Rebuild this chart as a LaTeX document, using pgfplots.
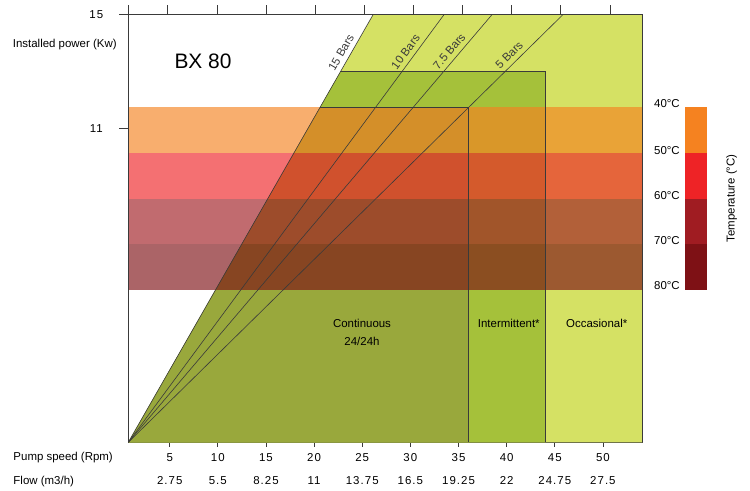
\documentclass[border=0pt]{standalone}
\usepackage{fontspec}
\setmainfont{Liberation Sans}
\newfontfamily\numfont[LetterSpace=9]{Liberation Sans}
\usepackage{pgfplots}
\pgfplotsset{compat=1.18}
\definecolor{lgreen}{HTML}{D5E164}
\definecolor{mgreen}{HTML}{A5C13A}
\definecolor{ogreen}{HTML}{99A83C}
\definecolor{t40}{HTML}{F58220}
\definecolor{t50}{HTML}{EE2326}
\definecolor{t60}{HTML}{A01C22}
\definecolor{t70}{HTML}{7E1115}
\definecolor{linec}{HTML}{3A3A3A}
\newcommand{\fs}{\fontsize{11.5}{13.8}\selectfont}
\newcommand{\fn}{\numfont\fontsize{11.5}{13.8}\selectfont}
\begin{document}
\begin{tikzpicture}
\useasboundingbox (-128.3bp,-48.7bp) rectangle (621.7bp,442.3bp);
\begin{axis}[
  at={(0,0)}, anchor=south west,
  scale only axis, width=514bp, height=428bp,
  xmin=0.7, xmax=54.09, ymin=0, ymax=15,
  clip=false,
  axis line style={linec, line width=0.8bp},
  xtick={5,10,...,50}, ytick=\empty,
  xtick pos=bottom,
  tick align=outside,
  major tick length=4.5bp,
  tick style={linec, line width=0.8bp},
  tick label style={font=\fn},
  /pgf/number format/assume math mode=true,
  xticklabel style={anchor=base, yshift=-14.7bp},
]
% operating zones
\addplot[fill=lgreen, draw=none] coordinates {(0.7,0) (26.15,15) (54.09,15) (54.09,0)} -- cycle;
\addplot[fill=mgreen, draw=none] coordinates {(0.7,0) (22.75,13) (44,13) (44,0)} -- cycle;
\addplot[fill=ogreen, draw=none] coordinates {(0.7,0) (20.61,11.74) (36.06,11.74) (36.06,0)} -- cycle;
% temperature bands
\addplot[fill=t40, fill opacity=0.65, draw=none] coordinates {(0.7,10.13) (0.7,11.74) (54.09,11.74) (54.09,10.13)} -- cycle;
\addplot[fill=t50, fill opacity=0.65, draw=none] coordinates {(0.7,8.52) (0.7,10.13) (54.09,10.13) (54.09,8.52)} -- cycle;
\addplot[fill=t60, fill opacity=0.65, draw=none] coordinates {(0.7,6.94) (0.7,8.52) (54.09,8.52) (54.09,6.94)} -- cycle;
\addplot[fill=t70, fill opacity=0.65, draw=none] coordinates {(0.7,5.33) (0.7,6.94) (54.09,6.94) (54.09,5.33)} -- cycle;
% zone borders
\addplot[linec, line width=0.6bp] coordinates {(22.75,13) (44,13) (44,0)};
\addplot[linec, line width=0.6bp] coordinates {(20.61,11.74) (36.06,11.74) (36.06,0)};
\addplot[linec, line width=0.8bp] coordinates {(54.09,0) (54.09,15)};
% pressure lines
\addplot[linec, line width=0.6bp] coordinates {(0.7,0) (26.15,15)} node[pos=0.9, sloped, above=3bp, font=\fs, inner sep=1.5bp] {15 Bars};
\addplot[linec, line width=0.6bp] coordinates {(0.7,0) (33.52,15)} node[pos=0.9, sloped, above=3bp, font=\fs, inner sep=1.5bp] {10 Bars};
\addplot[linec, line width=0.6bp] coordinates {(0.7,0) (38.51,15)} node[pos=0.9, sloped, above=3bp, font=\fs, inner sep=1.5bp] {7.5 Bars};
\addplot[linec, line width=0.6bp] coordinates {(0.7,0) (45.88,15)} node[pos=0.89, sloped, above=3bp, font=\fs, inner sep=1.5bp] {5 Bars};
% temperature legend
\addplot[fill=t40, draw=none] coordinates {(58.52,10.13) (58.52,11.74) (60.81,11.74) (60.81,10.13)} -- cycle;
\addplot[fill=t50, draw=none] coordinates {(58.52,8.52) (58.52,10.13) (60.81,10.13) (60.81,8.52)} -- cycle;
\addplot[fill=t60, draw=none] coordinates {(58.52,6.94) (58.52,8.52) (60.81,8.52) (60.81,6.94)} -- cycle;
\addplot[fill=t70, draw=none] coordinates {(58.52,5.33) (58.52,6.94) (60.81,6.94) (60.81,5.33)} -- cycle;
\node[anchor=east, font=\fs, inner sep=0pt] at (axis cs:58.0,11.86) {40°C};
\node[anchor=east, font=\fs, inner sep=0pt] at (axis cs:58.0,10.24) {50°C};
\node[anchor=east, font=\fs, inner sep=0pt] at (axis cs:58.0,8.66) {60°C};
\node[anchor=east, font=\fs, inner sep=0pt] at (axis cs:58.0,7.07) {70°C};
\node[anchor=east, font=\fs, inner sep=0pt] at (axis cs:58.0,5.49) {80°C};
\node[rotate=90, font=\fs] at (axis cs:63.37,8.55) {Temperature (°C)};
% flow row
\node[font=\fn, anchor=base] at (axis cs:5,0) [yshift=-41.8bp] {2.75};
\node[font=\fn, anchor=base] at (axis cs:10,0) [yshift=-41.8bp] {5.5};
\node[font=\fn, anchor=base] at (axis cs:15,0) [yshift=-41.8bp] {8.25};
\node[font=\fn, anchor=base] at (axis cs:20,0) [yshift=-41.8bp] {11};
\node[font=\fn, anchor=base] at (axis cs:25,0) [yshift=-41.8bp] {13.75};
\node[font=\fn, anchor=base] at (axis cs:30,0) [yshift=-41.8bp] {16.5};
\node[font=\fn, anchor=base] at (axis cs:35,0) [yshift=-41.8bp] {19.25};
\node[font=\fn, anchor=base] at (axis cs:40,0) [yshift=-41.8bp] {22};
\node[font=\fn, anchor=base] at (axis cs:45,0) [yshift=-41.8bp] {24.75};
\node[font=\fn, anchor=base] at (axis cs:50,0) [yshift=-41.8bp] {27.5};
\end{axis}
\begin{axis}[
  at={(0,0)}, anchor=south west,
  scale only axis, width=514bp, height=428bp,
  xmin=0.7, xmax=54.09, ymin=0, ymax=15,
  axis x line*=top, axis y line*=left,
  axis line style={linec, line width=0.8bp},
  xtick={0.7,4.8,9.95,15.01,20.1,25.2,30.3,35.4,40.5,45.6,50.8},
  xticklabels={},
  ytick={11,15},
  tick align=outside,
  major tick length=9bp,
  tick style={linec, line width=0.8bp},
  tick label style={font=\fn},
  /pgf/number format/assume math mode=true,
  yticklabel style={anchor=center, xshift=-23bp},
]
\end{axis}
\node[anchor=base west, font=\fs, inner sep=0pt] at (-115.6bp,394.9bp) {Installed power (Kw)};
\node[anchor=base west, font=\fs, inner sep=0pt] at (-115bp,-18.5bp) {Pump speed (Rpm)};
\node[anchor=base west, font=\fs, inner sep=0pt] at (-115bp,-41.8bp) {Flow (m3/h)};
\node[font=\fontsize{21}{25}\selectfont] at (74.7bp,381.3bp) {BX 80};
\node[font=\fontsize{11.5}{18}\selectfont, align=center] at (233.7bp,110.3bp) {Continuous\\24/24h};
\node[font=\fs] at (380.5bp,119.3bp) {Intermittent*};
\node[font=\fs] at (468.4bp,119.3bp) {Occasional*};
\end{tikzpicture}
\end{document}
